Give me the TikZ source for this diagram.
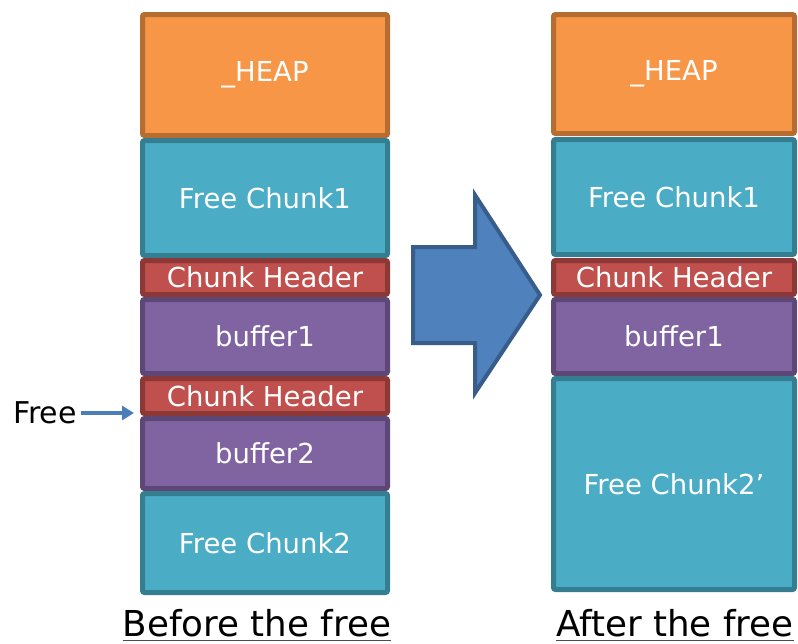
\documentclass[tikz,border=0pt]{standalone}
\usepackage{fontspec}
\setmainfont{DejaVu Sans}
\usetikzlibrary{arrows.meta}

\definecolor{heapfill}{HTML}{F79646}
\definecolor{heapline}{HTML}{B66D31}
\definecolor{freefill}{HTML}{4BACC6}
\definecolor{freeline}{HTML}{357D91}
\definecolor{hdrfill}{HTML}{C0504D}
\definecolor{hdrline}{HTML}{8C3836}
\definecolor{buffill}{HTML}{8064A2}
\definecolor{bufline}{HTML}{5C4776}
\definecolor{bigfill}{HTML}{4F81BD}
\definecolor{bigline}{HTML}{385D8A}
\definecolor{ptrblue}{HTML}{4A7EBB}

\tikzset{
  blk/.style={draw, line width=5pt, rounded corners=2pt, inner sep=0pt,
    text=white, font=\fontsize{27.5}{31}\selectfont},
  leftcol/.style={blk, minimum width=245pt},
  rightcol/.style={blk, minimum width=241pt},
  heapblk/.style={fill=heapfill, draw=heapline},
  freeblk/.style={fill=freefill, draw=freeline},
  hdrblk/.style={fill=hdrfill, draw=hdrline},
  bufblk/.style={fill=buffill, draw=bufline},
  caption/.style={inner sep=0pt, anchor=base, font=\fontsize{35.7}{40}\selectfont},
  underln/.style={gray!60!black, line width=1.5pt},
}

\begin{document}
\begin{tikzpicture}[x=1pt, y=-1pt]
\useasboundingbox (0,0) rectangle (798,643);

% heap before the free
\node[leftcol, heapblk, minimum height=121pt] (heapL) at (265,75)    {\_HEAP};
\node[leftcol, freeblk, minimum height=115pt] (fc1L)  at (265,198)   {Free Chunk1};
\node[leftcol, hdrblk,  minimum height=34pt]  (chL1)  at (265,277.5) {Chunk Header};
\node[leftcol, bufblk,  minimum height=74pt]  (buf1L) at (265,336.5) {buffer1};
\node[leftcol, hdrblk,  minimum height=35pt]  (chL2)  at (265,396)   {Chunk Header};
\node[leftcol, bufblk,  minimum height=70pt]  (buf2L) at (265,453.5) {buffer2};
\node[leftcol, freeblk, minimum height=99pt]  (fc2L)  at (265,543)   {Free Chunk2};

% heap after the free
\node[rightcol, heapblk, minimum height=119pt] (heapR) at (674,74)    {\_HEAP};
\node[rightcol, freeblk, minimum height=115pt] (fc1R)  at (674,197)   {Free Chunk1};
\node[rightcol, hdrblk,  minimum height=34pt]  (chR)   at (674,277.5) {Chunk Header};
\node[rightcol, bufblk,  minimum height=74pt]  (buf1R) at (674,336.5) {buffer1};
\node[rightcol, freeblk, minimum height=211pt] (fc2R)  at (674,484)   {Free Chunk2’};

% pointer to the chunk being freed
\node[inner sep=0pt, font=\fontsize{30}{34}\selectfont] (free) at (45,413) {Free};
\draw[ptrblue, line width=4pt, -{Triangle[length=12pt, width=14pt]}, shorten >=6pt]
  ([xshift=4pt]free.east) -- (free.east -| chL2.west);

% transition arrow
\draw[bigline, fill=bigfill, line width=4pt, line join=miter]
  (413,247) -- (475,247) -- (475,195) -- (540,295) -- (475,393)
  -- (475,343) -- (413,343) -- cycle;

% captions
\node[caption] (capL) at (257,636) {Before the free};
\node[caption] (capR) at (675,636) {After the free};
\draw[underln] ([yshift=-4pt]capL.south west) -- ([yshift=-4pt]capL.south east);
\draw[underln] ([yshift=-4pt]capR.south west) -- ([yshift=-4pt]capR.south east);
\end{tikzpicture}
\end{document}
